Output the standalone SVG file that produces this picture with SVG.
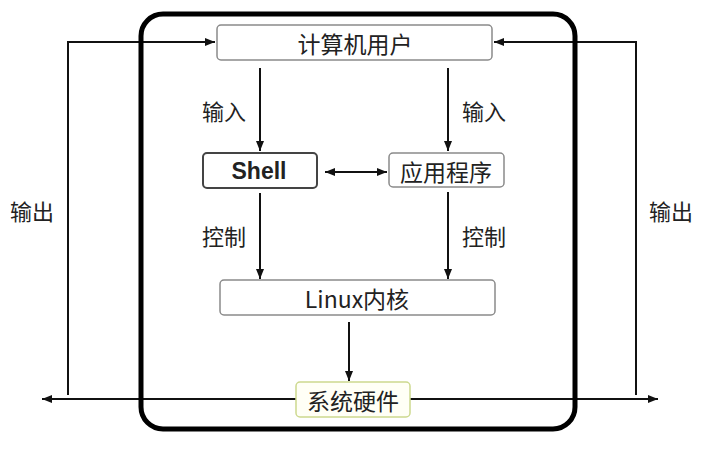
<svg xmlns="http://www.w3.org/2000/svg" width="718" height="452" viewBox="0 0 718 452">
<style>
.box{fill:#fff;stroke:#8a8a8a;stroke-width:1.5}
.t{font-family:"Noto Sans CJK SC","Noto Sans",sans-serif;font-size:23px;fill:#222;text-anchor:middle;dominant-baseline:central}
.l{font-size:22px}
.c{stroke:#111;stroke-width:2;fill:none}
</style>
<defs>
<marker id="a" viewBox="0 0 10 8" refX="10" refY="4" markerWidth="10" markerHeight="8" orient="auto-start-reverse" markerUnits="userSpaceOnUse">
<path d="M0,0 L10,4 L0,8 z" fill="#111"/>
</marker>
</defs>
<rect width="718" height="452" fill="#fff"/>
<g id="connectors">
<path class="c" d="M68,395 V42 H215" marker-end="url(#a)"/>
<path class="c" d="M636,395 V42 H494" marker-end="url(#a)"/>
<path class="c" d="M260,68 V151" marker-end="url(#a)"/>
<path class="c" d="M448,68 V151" marker-end="url(#a)"/>
<path class="c" d="M325,172 H387" marker-start="url(#a)" marker-end="url(#a)"/>
<path class="c" d="M260,193 V279" marker-end="url(#a)"/>
<path class="c" d="M448,192 V279" marker-end="url(#a)"/>
<path class="c" d="M349,322 V381" marker-end="url(#a)"/>
<path class="c" d="M296,399 H42" marker-end="url(#a)"/>
<path class="c" d="M410,399 H658" marker-end="url(#a)"/>
</g>
<g id="frame">
<rect x="141" y="14" width="434" height="415" rx="22" fill="none" stroke="#000" stroke-width="5"/>
</g>
<g id="user">
<rect class="box" x="217" y="25" width="275" height="35" rx="4"/>
<text class="t" x="355" y="43">计算机用户</text>
</g>
<g id="shell">
<rect x="203" y="153" width="114" height="35" rx="4" fill="#fff" stroke="#444" stroke-width="2"/>
<text class="t" x="259" y="171" style="font-family:'Liberation Sans',Arial,sans-serif;font-weight:bold">Shell</text>
</g>
<g id="app">
<rect class="box" x="389" y="153" width="115" height="34" rx="4"/>
<text class="t" x="446" y="171">应用程序</text>
</g>
<g id="kernel">
<rect class="box" x="220" y="280" width="275" height="35" rx="4"/>
<text class="t" x="357" y="298">Linux内核</text>
</g>
<g id="hardware">
<rect x="296" y="382" width="114" height="35" rx="4" fill="#fffff6" stroke="#cdd98f" stroke-width="1.5"/>
<text class="t" x="353" y="400">系统硬件</text>
</g>
<g id="labels">
<text class="t l" x="224" y="110">输入</text>
<text class="t l" x="484" y="110">输入</text>
<text class="t l" x="224" y="235">控制</text>
<text class="t l" x="484" y="235">控制</text>
<text class="t l" x="32" y="210">输出</text>
<text class="t l" x="671" y="210">输出</text>
</g>
</svg>
